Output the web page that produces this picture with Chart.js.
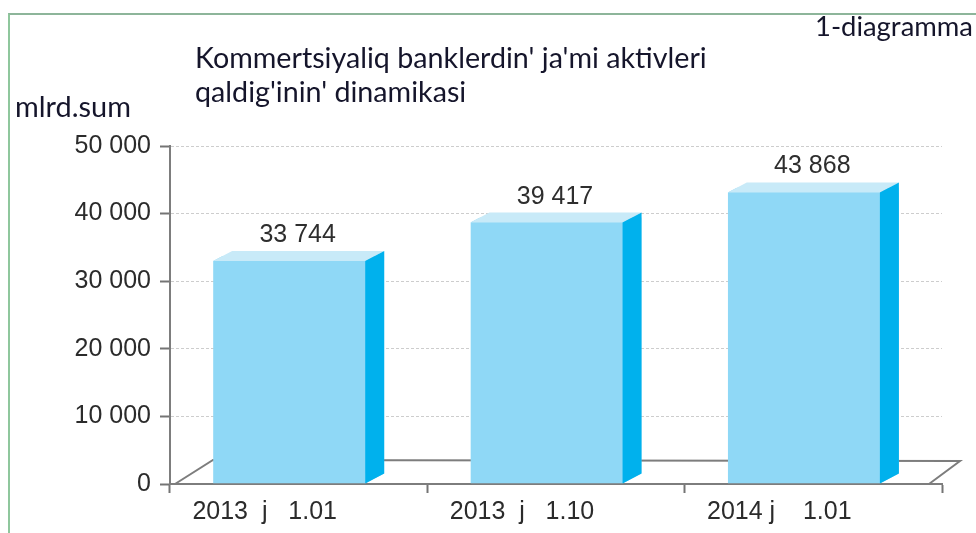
<!DOCTYPE html>
<html>
<head>
<meta charset="utf-8">
<script src="https://cdn.jsdelivr.net/npm/chart.js@4.4.0/dist/chart.umd.min.js"></script>
<style>
html,body{margin:0;padding:0;background:#fff;}
#wrap{position:relative;width:976px;height:533px;overflow:hidden;background:#fff;}
#frame{position:absolute;left:8px;top:13px;width:1000px;height:600px;border-top:2px solid #8db59a;border-left:2px solid #8fc79d;}
#c{position:absolute;left:0;top:0;}
.t{position:absolute;font-family:Lato,"Open Sans",sans-serif;color:#15152b;white-space:nowrap;}
</style>
</head>
<body>
<div id="wrap">
  <div id="frame"></div>
  <canvas id="c" width="976" height="533" style="width:976px;height:533px;"></canvas>
  <div class="t" id="title" style="left:195px;"><span id="t1">Kommertsiyaliq banklerdin' ja'mi aktivleri</span><br><span>qaldig'inin' dinamikasi</span></div>
  <div class="t" id="unit" style="left:15px;"><span id="u1">mlrd.sum</span></div>
  <div class="t" id="fig" style="left:815px;"><span id="f1">1-diagramma</span></div>
</div>
<script>
// ---- data ----
const categories = ['2013  j   1.01', '2013  j   1.10', '2014 j    1.01'];
const assets = [33744, 39417, 43868];
const yTickValues = [0, 10000, 20000, 30000, 40000, 50000];

function fmtNum(v) {
  return String(v).replace(/\B(?=(\d{3})+(?!\d))/g, ' ');
}

// fit HTML captions (Calibri-like look) to the reference widths
function fitText(boxId, spanId, targetW, baseline, lineH) {
  const box = document.getElementById(boxId), span = document.getElementById(spanId);
  box.style.fontSize = '24px';
  const w = span.getBoundingClientRect().width;
  const s = 24 * targetW / w;
  box.style.fontSize = s + 'px';
  const lh = lineH || s * 1.2;
  box.style.lineHeight = lh + 'px';
  box.style.top = (baseline - ((lh - 1.2 * s) / 2 + 0.987 * s)) + 'px';
}
fitText('title', 't1', 512, 68, 34);
fitText('unit', 'u1', 116, 118);
fitText('fig', 'f1', 158, 37);

const DEPTH_X = 19, DEPTH_Y = 10;
const FRONT = '#8fd8f6', TOP = '#c8eaf8', SIDE = '#00b1ed';
const FONT = '"Liberation Sans", Arial, sans-serif';

function faces(el) {
  const p = el.getProps(['x', 'y', 'base', 'width'], true);
  const L = p.x - p.width / 2, R = p.x + p.width / 2;
  const yf = p.y + DEPTH_Y / 2;
  return {L, R, yf, base: p.base, x: p.x};
}

const bar3d = {
  id: 'bar3d',
  beforeDatasetsDraw(chart) {
    const ctx = chart.ctx, a = chart.chartArea;
    ctx.save();
    ctx.strokeStyle = '#7d7d7d';
    ctx.lineWidth = 2;
    ctx.beginPath();
    ctx.moveTo(a.left + 5, a.bottom);
    ctx.lineTo(a.left + 43, a.bottom - 24);
    ctx.lineTo(a.right + 18, a.bottom - 23);
    ctx.lineTo(a.right - 13, a.bottom);
    ctx.stroke();
    ctx.restore();
  },
  beforeDatasetDraw(chart, args) {
    const ctx = chart.ctx;
    ctx.save();
    ctx.beginPath();
    args.meta.data.forEach(el => {
      const f = faces(el);
      ctx.moveTo(f.L, f.base);
      ctx.lineTo(f.L, f.yf);
      ctx.lineTo(f.L + DEPTH_X, f.yf - DEPTH_Y);
      ctx.lineTo(f.R, f.yf - DEPTH_Y);
      ctx.lineTo(f.R, f.base - DEPTH_Y);
      ctx.lineTo(f.R - DEPTH_X, f.base);
      ctx.closePath();
    });
    ctx.clip();
  },
  afterDatasetDraw(chart, args) {
    const ctx = chart.ctx;
    ctx.restore();
    const ds = chart.data.datasets[args.index];
    args.meta.data.forEach((el, i) => {
      const f = faces(el);
      ctx.save();
      ctx.fillStyle = TOP;
      ctx.beginPath();
      ctx.moveTo(f.L, f.yf);
      ctx.lineTo(f.L + DEPTH_X, f.yf - DEPTH_Y);
      ctx.lineTo(f.R, f.yf - DEPTH_Y);
      ctx.lineTo(f.R - DEPTH_X, f.yf);
      ctx.closePath();
      ctx.fill();
      ctx.fillStyle = SIDE;
      ctx.beginPath();
      ctx.moveTo(f.R - DEPTH_X, f.yf);
      ctx.lineTo(f.R, f.yf - DEPTH_Y);
      ctx.lineTo(f.R, f.base - DEPTH_Y);
      ctx.lineTo(f.R - DEPTH_X, f.base);
      ctx.closePath();
      ctx.fill();
      ctx.fillStyle = '#2e2e2e';
      ctx.font = '25px ' + FONT;
      ctx.textAlign = 'center';
      ctx.textBaseline = 'alphabetic';
      ctx.fillText(fmtNum(ds.data[i]), f.x - 1, f.yf - DEPTH_Y - 9);
      ctx.restore();
    });
  }
};

new Chart(document.getElementById('c'), {
  type: 'bar',
  data: {
    labels: categories,
    datasets: [{
      label: 'Aktivler',
      data: assets,
      backgroundColor: FRONT,
      borderWidth: 0,
      barPercentage: 0.665,
      categoryPercentage: 1
    }]
  },
  options: {
    responsive: false,
    animation: false,
    layout: {padding: {left: 0, right: 34, top: 146, bottom: 0}},
    plugins: {legend: {display: false}, tooltip: {enabled: false}, title: {display: false}},
    scales: {
      x: {
        grid: {display: true, drawOnChartArea: false, drawTicks: true, tickLength: 9, tickColor: '#747474', tickWidth: 2, offset: true},
        border: {display: true, color: '#7d7d7d', width: 2},
        ticks: {font: {family: FONT, size: 25}, color: '#2b2b2b', labelOffset: -34, padding: 4, maxRotation: 0, autoSkip: false},
        afterFit(s) { s.height = 49; }
      },
      y: {
        min: 0, max: 50000,
        afterBuildTicks(s) { s.ticks = yTickValues.map(v => ({value: v})); },
        ticks: {callback: v => fmtNum(v), font: {family: FONT, size: 25}, color: '#2b2b2b', padding: 9},
        grid: {color: '#cdcdcd', lineWidth: 1, tickLength: 10, tickColor: '#747474', tickWidth: 2, tickBorderDash: []},
        border: {display: true, color: '#7d7d7d', width: 2, dash: [3, 2]},
        afterFit(s) { s.width = 170; }
      }
    }
  },
  plugins: [bar3d]
});
</script>
</body>
</html>
